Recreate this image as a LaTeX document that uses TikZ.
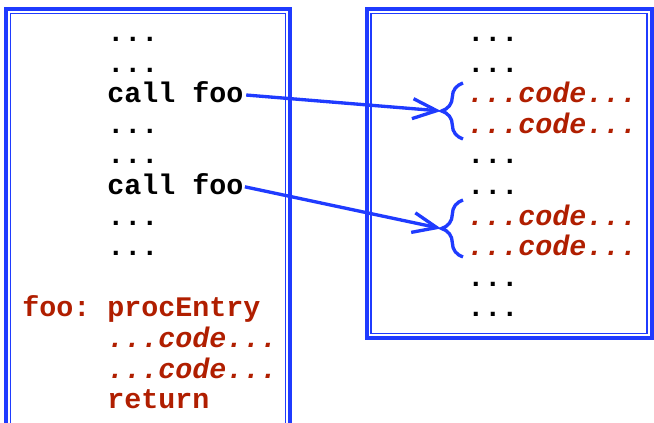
\documentclass[tikz,border=0pt]{standalone}
\usepackage{fontspec}
\setmonofont{Liberation Mono}
\usetikzlibrary{arrows.meta,decorations.pathreplacing}
\definecolor{frame}{HTML}{1F3BFF}
\definecolor{proc}{HTML}{B01E00}
\tikzset{
  outerbox/.style={draw=frame, line width=3pt},
  innerbox/.style={draw=frame, line width=1.1pt},
  code/.style={anchor=base west, inner sep=0pt, font=\ttfamily\bfseries\fontsize{21.25}{24}\selectfont},
  body/.style={code, text=proc},
  bodyit/.style={body, font=\ttfamily\bfseries\itshape\fontsize{21.25}{24}\selectfont},
  callarrow/.style={draw=frame, line width=2.5pt, -{Straight Barb[length=18pt,width=15pt]}},
  callbrace/.style={draw=frame, line width=2.5pt, decorate, decoration={brace, amplitude=16pt}}
}

\begin{document}
\begin{tikzpicture}[x=0.75pt,y=-0.75pt]
  \useasboundingbox (0,0) rectangle (654,423);
  \clip (0,0) rectangle (654,423);

  % caller and procedure frames
  \draw[outerbox] (6,9) rectangle (290,450);
  \draw[innerbox] (10.5,13.5) rectangle (285.5,450);
  \draw[outerbox] (366.5,9) rectangle (651.5,338);
  \draw[innerbox] (371,13.5) rectangle (647,333.5);

  % caller
  \node[code] (l0) at (107,41.5) {...};
  \node[code] (l1) at (107,72.1) {...};
  \node[code] (call1) at (107,102.7) {call foo};
  \node[code] (l3) at (107,133.3) {...};
  \node[code] (l4) at (107,163.9) {...};
  \node[code] (call2) at (107,194.5) {call foo};
  \node[code] (l6) at (107,225.1) {...};
  \node[code] (l7) at (107,255.7) {...};
  \node[body] (entry) at (22,316.9) {foo: procEntry};
  \node[bodyit] (l10) at (107,347.5) {...code...};
  \node[bodyit] (l11) at (107,378.1) {...code...};
  \node[body] (ret) at (107,408.7) {return};

  % inlined copies
  \node[code] (r0) at (467,41.5) {...};
  \node[code] (r1) at (467,72.1) {...};
  \node[bodyit] (r2) at (467,102.7) {...code...};
  \node[bodyit] (r3) at (467,133.3) {...code...};
  \node[code] (r4) at (467,163.9) {...};
  \node[code] (r5) at (467,194.5) {...};
  \node[bodyit] (r6) at (467,225.1) {...code...};
  \node[bodyit] (r7) at (467,255.7) {...code...};
  \node[code] (r8) at (467,286.3) {...};
  \node[code] (r9) at (467,316.9) {...};

  \draw[callbrace] (463,139) -- (463,83);
  \draw[callbrace] (463,257) -- (463,200);
  \coordinate (tip1) at (441,111);
  \coordinate (tip2) at (441,228.5);

  \draw[callarrow] ([xshift=2pt,yshift=-2pt]call1.east) -- (tip1);
  \draw[callarrow] ([xshift=1pt,yshift=-2pt]call2.east) -- (tip2);
\end{tikzpicture}
\end{document}
